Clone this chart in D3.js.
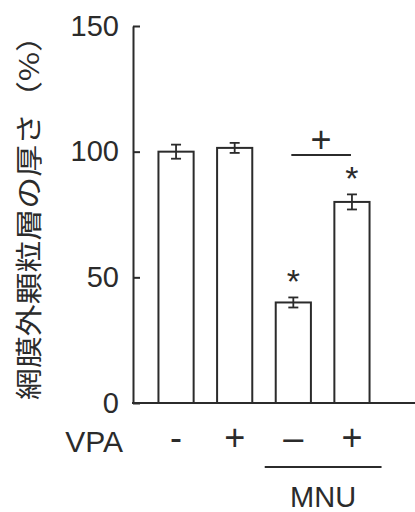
<!DOCTYPE html>
<meta charset="utf-8">
<head>
    <style>
        body { margin: 0; background: #fff; }
        text { font-family: "Liberation Sans", Arial, sans-serif; fill: #2b2b2b; }
    </style>
    <script src="https://d3js.org/d3.v7.min.js"></script>
</head>
<body>
    <div id="chart"></div>
    <script>
        // data
        const groups = ["ctrl", "vpa", "mnu", "mnu_vpa"];
        const vpaSigns = ["-", "+", "\u2013", "+"];
        const thickness = [100, 101.5, 40, 80];
        const errors = [2.8, 2, 2, 3];
        const starred = [false, false, true, true];
        const yTicks = [0, 50, 100, 150];

        const width = 415, height = 512;
        const ink = "#2b2b2b";

        const svg = d3.select("#chart").append("svg")
            .attr("width", width)
            .attr("height", height);

        const x = d3.scaleBand().domain(groups).range([135, 393]).padding(0.4);
        const y = d3.scaleLinear().domain([0, 150]).range([403, 26]);

        // y axis, ticks pointing inward
        const yAxis = svg.append("g")
            .attr("transform", "translate(133,0)")
            .call(d3.axisLeft(y).tickValues(yTicks).tickSizeInner(-7).tickSizeOuter(0).tickPadding(14));
        yAxis.select(".domain").attr("stroke", ink).attr("stroke-width", 2);
        yAxis.selectAll(".tick line").attr("stroke", ink).attr("stroke-width", 2);
        yAxis.selectAll(".tick text")
            .attr("font-size", 29)
            .attr("fill", ink)
            .style("font-family", "'Liberation Sans', Arial, sans-serif");

        // baseline
        svg.append("line")
            .attr("x1", 132).attr("x2", width)
            .attr("y1", y(0)).attr("y2", y(0))
            .attr("stroke", ink).attr("stroke-width", 2);

        // bars
        svg.selectAll(".bar")
            .data(groups)
            .enter().append("rect")
            .attr("class", "bar")
            .attr("x", d => x(d))
            .attr("width", x.bandwidth())
            .attr("y", (d, i) => y(thickness[i]))
            .attr("height", (d, i) => y(0) - y(thickness[i]))
            .attr("fill", "#fff")
            .attr("stroke", ink)
            .attr("stroke-width", 2);

        // error bars
        const err = svg.selectAll(".err")
            .data(groups)
            .enter().append("g")
            .attr("class", "err")
            .attr("transform", d => "translate(" + (x(d) + x.bandwidth() / 2) + ",0)")
            .attr("stroke", ink)
            .attr("stroke-width", 1.8);
        err.append("line")
            .attr("y1", (d, i) => y(thickness[i] - errors[i]))
            .attr("y2", (d, i) => y(thickness[i] + errors[i]));
        err.append("line")
            .attr("x1", -5).attr("x2", 5)
            .attr("y1", (d, i) => y(thickness[i] + errors[i]))
            .attr("y2", (d, i) => y(thickness[i] + errors[i]));
        err.append("line")
            .attr("x1", -5).attr("x2", 5)
            .attr("y1", (d, i) => y(thickness[i] - errors[i]))
            .attr("y2", (d, i) => y(thickness[i] - errors[i]));

        // asterisks
        svg.selectAll(".star")
            .data(groups.filter((d, i) => starred[i]))
            .enter().append("text")
            .attr("class", "star")
            .attr("x", d => x(d) + x.bandwidth() / 2)
            .attr("y", d => {
                const i = groups.indexOf(d);
                return y(thickness[i] + errors[i]) - 4;
            })
            .attr("text-anchor", "middle")
            .attr("font-size", 34)
            .text("*");

        // + bracket between MNU groups
        const bx1 = x("mnu") + x.bandwidth() / 2 - 2;
        const bx2 = x("mnu_vpa") + x.bandwidth() / 2 - 1;
        svg.append("line")
            .attr("x1", bx1).attr("x2", bx2)
            .attr("y1", y(98.7)).attr("y2", y(98.7))
            .attr("stroke", ink).attr("stroke-width", 2);
        svg.append("text")
            .attr("x", (bx1 + bx2) / 2)
            .attr("y", y(98.7) - 3)
            .attr("text-anchor", "middle")
            .attr("font-size", 36)
            .text("+");

        // VPA row
        svg.append("text")
            .attr("x", 123).attr("y", 452)
            .attr("text-anchor", "end")
            .attr("font-size", 30)
            .text("VPA");
        svg.selectAll(".sign")
            .data(groups)
            .enter().append("text")
            .attr("class", "sign")
            .attr("x", d => x(d) + x.bandwidth() / 2)
            .attr("y", 450)
            .attr("text-anchor", "middle")
            .attr("font-size", 36)
            .text((d, i) => vpaSigns[i]);

        // MNU group line
        svg.append("line")
            .attr("x1", x("mnu") - 11).attr("x2", x("mnu_vpa") + x.bandwidth() + 12)
            .attr("y1", 467).attr("y2", 467)
            .attr("stroke", ink).attr("stroke-width", 2);
        svg.append("text")
            .attr("x", (x("mnu") - 11 + x("mnu_vpa") + x.bandwidth() + 12) / 2)
            .attr("y", 507)
            .attr("text-anchor", "middle")
            .attr("font-size", 29)
            .text("MNU");

        // y label
        svg.append("text")
            .attr("transform", "translate(39,210) rotate(-90)")
            .attr("text-anchor", "middle")
            .attr("font-size", 27)
            .style("font-family", "'Noto Sans CJK JP', sans-serif")
            .attr("textLength", 380)
            .attr("lengthAdjust", "spacingAndGlyphs")
            .text("網膜外顆粒層の厚さ（%）");
    </script>
</body>
